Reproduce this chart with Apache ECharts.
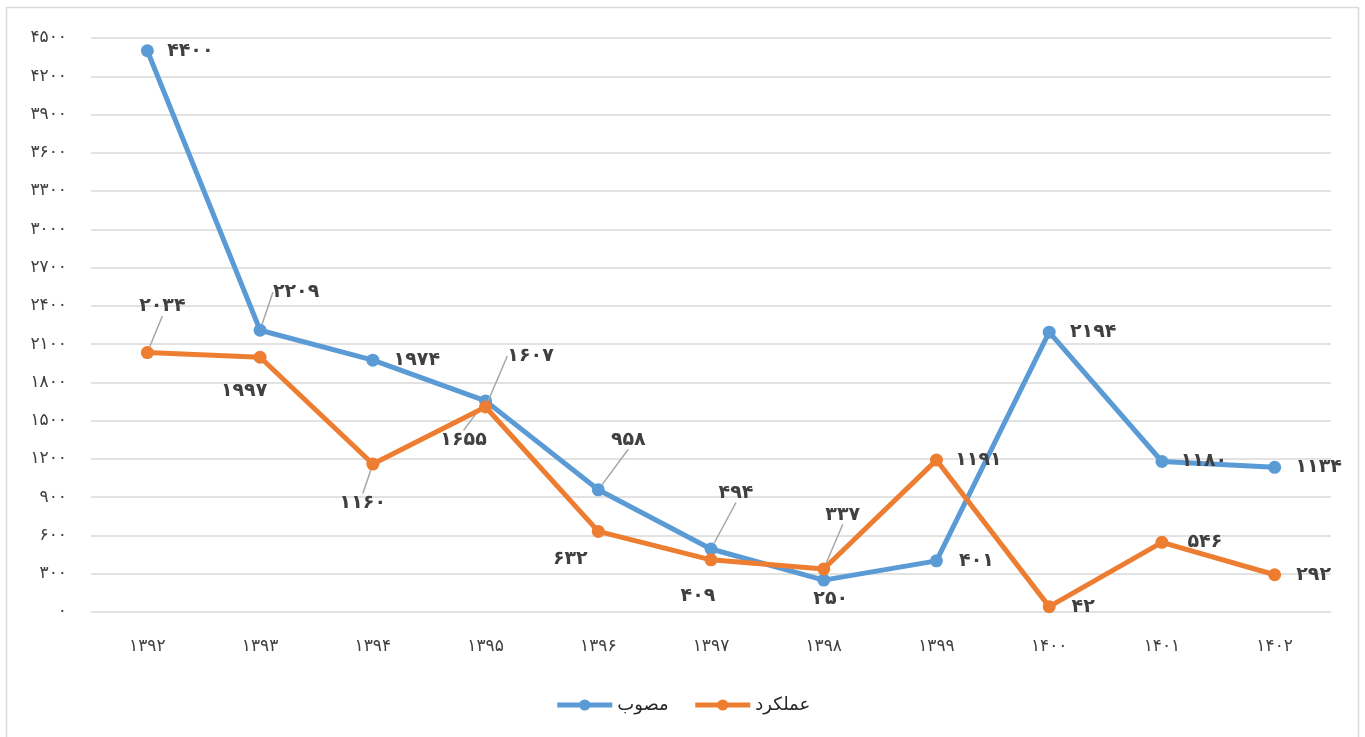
<!DOCTYPE html>
<html>
<head>
<meta charset="utf-8">
<script src="https://cdn.jsdelivr.net/npm/echarts@6/dist/echarts.min.js"></script>
<style>
html,body{margin:0;padding:0;background:#fff;}
#c{width:1365px;height:737px;}
</style>
</head>
<body>
<div id="c"></div>
<script>
const years = [1392,1393,1394,1395,1396,1397,1398,1399,1400,1401,1402];
const approved = [4400,2209,1974,1655,958,494,250,401,2194,1180,1134];
const actual = [2034,1997,1160,1607,632,409,337,1191,42,546,292];
const seriesNames = ['مصوب','عملکرد'];

// label offsets (style) relative to each point, and which have leader lines
const approvedOffsets = [[43,0],[36,-38],[44,0],[-22,39],[30,-50],[25,-56],[7,19],[40,0],[44,0],[42,0],[44,0]];
const approvedLeader = [0,1,0,1,1,1,0,0,0,0,0];
const actualOffsets = [[15,-46],[-16,34],[-10,39],[45,-51],[-28,28],[-13,36],[19,-54],[42,0],[34,0],[43,0],[39,0]];
const actualLeader = [1,0,1,1,0,0,1,0,0,0,0];

const FA = '۰۱۲۳۴۵۶۷۸۹';
const toFa = v => String(v).replace(/\d/g, d => FA[+d]);
const FONT = 'DejaVu Sans';

function mkData(vals, leaders){
  return vals.map((v,i)=>({value:v, labelLine:{show:!!leaders[i]}}));
}

const chart = echarts.init(document.getElementById('c'));
chart.setOption({
  backgroundColor:'#fff',
  animation:false,
  graphic:[{type:'rect', shape:{x:6.5,y:7.5,width:1352,height:740}, style:{fill:'none', stroke:'#d9d9d9', lineWidth:1.5}, silent:true, z:-1}],
  grid:{left:91,right:34,top:38,bottom:125},
  legend:{
    bottom:18, left:'center',
    itemWidth:55, itemHeight:14, itemGap:24,
    lineStyle:{width:5},
    textStyle:{fontFamily:FONT, fontSize:18, color:'#262626'},
    data:seriesNames
  },
  xAxis:{
    type:'category',
    data:years.map(toFa),
    boundaryGap:true,
    axisLine:{show:false},
    axisTick:{show:false},
    axisLabel:{margin:26, fontFamily:FONT, fontSize:17, color:'#404040'}
  },
  yAxis:{
    type:'value', min:0, max:4500, interval:300,
    axisLine:{show:false}, axisTick:{show:false},
    axisLabel:{margin:24, fontFamily:FONT, fontSize:17, color:'#404040', formatter:v=>toFa(v)},
    splitLine:{lineStyle:{color:'#d9d9d9', width:1.5}}
  },
  series:[
    {
      name:seriesNames[0], type:'line', data:mkData(approved, approvedLeader),
      color:'#5B9BD5',
      lineStyle:{width:5, color:'#5B9BD5'},
      symbol:'circle', symbolSize:13,
      itemStyle:{color:'#5B9BD5'},
      label:{show:true, position:'inside', fontFamily:FONT, fontSize:19, fontWeight:'bold', color:'#404040', formatter:p=>toFa(p.value)},
      labelLine:{lineStyle:{color:'#a6a6a6', width:1.5}},
      labelLayout:p=>({dx:approvedOffsets[p.dataIndex][0], dy:approvedOffsets[p.dataIndex][1]}),
      z:3
    },
    {
      name:seriesNames[1], type:'line', data:mkData(actual, actualLeader),
      color:'#ED7D31',
      lineStyle:{width:5, color:'#ED7D31'},
      symbol:'circle', symbolSize:13,
      itemStyle:{color:'#ED7D31'},
      label:{show:true, position:'inside', fontFamily:FONT, fontSize:19, fontWeight:'bold', color:'#404040', formatter:p=>toFa(p.value)},
      labelLine:{lineStyle:{color:'#a6a6a6', width:1.5}},
      labelLayout:p=>({dx:actualOffsets[p.dataIndex][0], dy:actualOffsets[p.dataIndex][1]}),
      z:4
    }
  ]
});
</script>
</body>
</html>
